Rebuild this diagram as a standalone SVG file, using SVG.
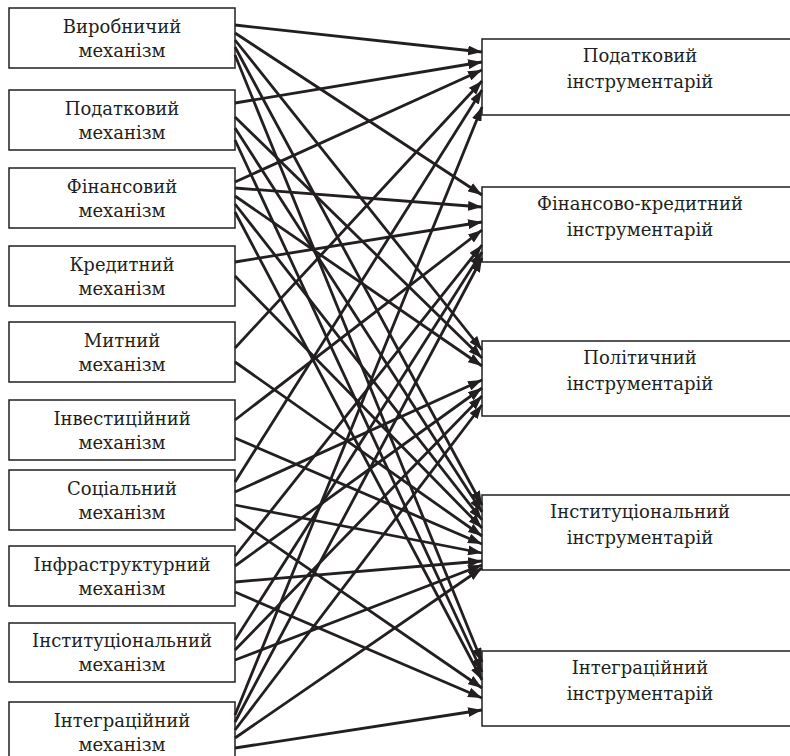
<svg xmlns="http://www.w3.org/2000/svg" width="790" height="756" viewBox="0 0 790 756">
<defs>
<marker id="ah" markerUnits="userSpaceOnUse" markerWidth="14" markerHeight="10" refX="14" refY="5" orient="auto">
<path d="M0,0 L14,5 L0,10 z" fill="#231f20"/>
</marker>
<style>
.box{fill:#fff;stroke:#231f20;stroke-width:1.5}
text{font-family:'DejaVu Serif','Liberation Serif',serif;font-size:18px;fill:#231f20;text-anchor:middle}
.c line{stroke:#231f20;stroke-width:2.8;marker-end:url(#ah)}
</style>
</defs>
<rect width="790" height="756" fill="#fff"/>
<g id="m1"><rect class="box" x="9" y="8" width="226" height="60"/><text x="122" y="33">Виробничий</text><text x="122" y="57">механізм</text></g>
<g id="m2"><rect class="box" x="9" y="90" width="226" height="60"/><text x="122" y="115">Податковий</text><text x="122" y="139">механізм</text></g>
<g id="m3"><rect class="box" x="9" y="168" width="226" height="60"/><text x="122" y="193">Фінансовий</text><text x="122" y="217">механізм</text></g>
<g id="m4"><rect class="box" x="9" y="246" width="226" height="60"/><text x="122" y="271">Кредитний</text><text x="122" y="295">механізм</text></g>
<g id="m5"><rect class="box" x="9" y="322" width="226" height="60"/><text x="122" y="347">Митний</text><text x="122" y="371">механізм</text></g>
<g id="m6"><rect class="box" x="9" y="400" width="226" height="60"/><text x="122" y="425">Інвестиційний</text><text x="122" y="449">механізм</text></g>
<g id="m7"><rect class="box" x="9" y="470" width="226" height="60"/><text x="122" y="495">Соціальний</text><text x="122" y="519">механізм</text></g>
<g id="m8"><rect class="box" x="9" y="546" width="226" height="60"/><text x="122" y="571">Інфраструктурний</text><text x="122" y="595">механізм</text></g>
<g id="m9"><rect class="box" x="9" y="623" width="226" height="59"/><text x="122" y="647">Інституціональний</text><text x="122" y="671">механізм</text></g>
<g id="m10"><rect class="box" x="9" y="702" width="226" height="60"/><text x="122" y="727">Інтеграційний</text><text x="122" y="751">механізм</text></g>
<g id="i1"><rect class="box" x="482" y="39" width="330" height="76"/><text x="640" y="62">Податковий</text><text x="640" y="88">інструментарій</text></g>
<g id="i2"><rect class="box" x="482" y="187" width="330" height="75"/><text x="640" y="210">Фінансово-кредитний</text><text x="640" y="236">інструментарій</text></g>
<g id="i3"><rect class="box" x="482" y="341" width="330" height="75"/><text x="640" y="364">Політичний</text><text x="640" y="390">інструментарій</text></g>
<g id="i4"><rect class="box" x="482" y="495" width="330" height="75"/><text x="640" y="518">Інституціональний</text><text x="640" y="544">інструментарій</text></g>
<g id="i5"><rect class="box" x="482" y="651" width="330" height="75"/><text x="640" y="674">Інтеграційний</text><text x="640" y="700">інструментарій</text></g>
<g id="connectors" class="c">
<line x1="235" y1="25" x2="482" y2="52"/>
<line x1="235" y1="33" x2="482" y2="195"/>
<line x1="235" y1="40" x2="482" y2="350"/>
<line x1="235" y1="47" x2="482" y2="505"/>
<line x1="235" y1="55" x2="482" y2="662"/>
<line x1="235" y1="103" x2="482" y2="62"/>
<line x1="235" y1="117" x2="482" y2="358"/>
<line x1="235" y1="128" x2="482" y2="512"/>
<line x1="235" y1="140" x2="482" y2="672"/>
<line x1="235" y1="182" x2="482" y2="70"/>
<line x1="235" y1="188" x2="482" y2="207"/>
<line x1="235" y1="196" x2="482" y2="366"/>
<line x1="235" y1="204" x2="482" y2="520"/>
<line x1="235" y1="212" x2="482" y2="680"/>
<line x1="235" y1="262" x2="482" y2="222"/>
<line x1="235" y1="276" x2="482" y2="528"/>
<line x1="235" y1="348" x2="482" y2="81"/>
<line x1="235" y1="362" x2="482" y2="536"/>
<line x1="235" y1="420" x2="482" y2="230"/>
<line x1="235" y1="438" x2="482" y2="544"/>
<line x1="235" y1="482" x2="482" y2="90"/>
<line x1="235" y1="492" x2="482" y2="380"/>
<line x1="235" y1="505" x2="482" y2="553"/>
<line x1="235" y1="518" x2="482" y2="688"/>
<line x1="235" y1="556" x2="482" y2="245"/>
<line x1="235" y1="566" x2="482" y2="388"/>
<line x1="235" y1="582" x2="482" y2="561"/>
<line x1="235" y1="592" x2="482" y2="698"/>
<line x1="235" y1="640" x2="482" y2="252"/>
<line x1="235" y1="650" x2="482" y2="396"/>
<line x1="235" y1="660" x2="482" y2="565"/>
<line x1="235" y1="715" x2="482" y2="107"/>
<line x1="235" y1="722" x2="482" y2="258"/>
<line x1="235" y1="730" x2="482" y2="405"/>
<line x1="235" y1="738" x2="482" y2="568"/>
<line x1="235" y1="748" x2="482" y2="710"/>
</g>
</svg>
